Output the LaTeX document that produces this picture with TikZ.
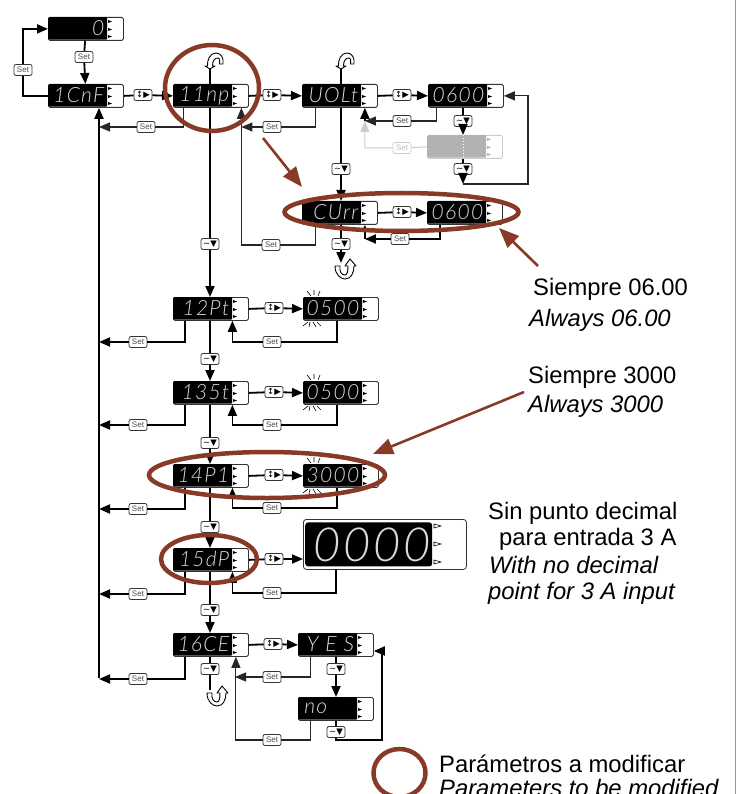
\documentclass[tikz,border=0pt]{standalone}
\usepackage{fontspec}
\setmainfont{Liberation Sans}
\newfontfamily\segfont[LetterSpace=6,ItalicFont={Lato Light Italic}]{Lato Light}
\newfontfamily\symfont{DejaVu Sans}
\usetikzlibrary{arrows.meta}
\definecolor{markred}{RGB}{135,58,38}
\tikzset{
  unitbox/.style={draw=black!80, fill=white, rounded corners=1.5pt, line width=0.8pt, minimum width=75pt, minimum height=23pt, inner sep=0pt},
  segblack/.style={fill=black, rounded corners=1pt, minimum width=59pt, minimum height=22.4pt, inner sep=0pt},
  segtext/.style={text=white!85!black, font=\segfont\itshape\fontsize{21}{21}\selectfont, inner sep=0pt, text width=56pt, align=right},
  keybtn/.style={draw=black!80, fill=white, rounded corners=2pt, line width=0.8pt, minimum width=18pt, minimum height=11pt, inner sep=0pt, font=\symfont\fontsize{8.5}{8.5}\selectfont},
  setbtn/.style={keybtn, text=black!70, font=\fontsize{8}{8}\selectfont},
  mainline/.style={line width=1.8pt},
  thinline/.style={line width=1.1pt, black!85},
  tip/.style={-{Triangle[length=11pt,width=9pt]}},
  smalltip/.style={-{Triangle[length=6pt,width=5pt]}},
  redmark/.style={draw=markred, line width=4.5pt},
  redarrow/.style={draw=markred, line width=2.6pt, -{Triangle[length=20pt,width=16pt]}},
  notetext/.style={font=\fontsize{23.8}{26}\selectfont, inner sep=0pt, anchor=base west},
  noteital/.style={notetext, font=\itshape\fontsize{23.8}{26}\selectfont},
  backloop/.pic={
    \draw[fill=white, line width=0.9pt, line join=round] (-5,-2) -- (0,1) -- (5,-2) -- (2.5,-2) .. controls (2.5,-8) and (5,-10) .. (8,-10)
      .. controls (10,-10) and (10,-6) .. (9.5,-4) -- (13,-4) .. controls (14,-10) and (11,-15) .. (6,-15) .. controls (0,-15) and (-3,-8) .. (-2.5,-2) -- cycle;
  },
  backturn/.pic={
    \draw[fill=white, line width=0.9pt, line join=round] (-6,3) .. controls (-6,12) and (0,16) .. (4,16) .. controls (10,16) and (13,10) .. (13,3)
      -- (15,3) -- (9,-4) -- (4,3) -- (7,3) .. controls (7,9) and (6,12) .. (4,12) .. controls (1,12) and (-2,9) .. (-1,3) -- cycle;
  },
  blink/.pic={
    \draw[line width=0.6pt] (4,-6) -- (8,-1) (11,-7) -- (11,-2) (17,-6) -- (15,-1);
    \draw[line width=0.6pt] (0,29) -- (5,25) (6,30) -- (7,25) (13,30) -- (10,25) (18,29) -- (14,25);
  }
}
% display unit: name, top left corner, text
\newcommand{\dispunit}[3]{
  \node[unitbox, anchor=north west] (#1) at (#2) {};
  \node[segblack, anchor=north west] (#1-seg) at (#1.north west) {};
  \node[segtext, anchor=east] (#1-txt) at ([xshift=-3pt]#1-seg.east) {#3};
  \foreach \i in {3,11,18} {
    \fill ([xshift=60pt, yshift=-\i pt]#1.north west) -- ++(4,1.5) -- ++(-4,1.5) -- cycle;
  }
}
\begin{document}
\begin{tikzpicture}[x=1pt, y=-1pt]
\useasboundingbox (0,0) rectangle (736,794);
% page edge
\coordinate (edgea) at (735.5,0);
\coordinate (edgeb) at (735.5,794);
\draw[markred!60, line width=0.7pt] (edgea) -- (edgeb);
% display units
\dispunit{zero}{48,17}{0}
\dispunit{cnf}{48,84}{1CnF}
\dispunit{inp}{173,84}{11np}
\dispunit{volt}{302,84}{UOLt}
\dispunit{vala}{428,84}{0600}
\dispunit{curr}{302,201}{CUrr}
\dispunit{valb}{427,201}{0600}
\dispunit{pt}{173,297}{12Pt}
\dispunit{valc}{303,297}{0500}
\dispunit{st}{173,381}{135t}
\dispunit{vald}{303,381}{0500}
\dispunit{pi}{173,464}{14P1}
\dispunit{vale}{303,464}{3000}
\dispunit{dp}{173,548}{15dP}
\dispunit{ce}{173,633}{16CE}
\dispunit{yes}{298,633}{Y\hspace{7pt}E\hspace{7pt}S}
\dispunit{no}{298,697}{no\hspace*{27pt}}
\pic at (valc.north west) {blink};
\pic at (vald.north west) {blink};
\pic at (vale.north west) {blink};
% big display
\node[unitbox, rounded corners=3pt, minimum width=163pt, minimum height=50pt, anchor=north west] (big) at (303,519) {};
\node[segblack, rounded corners=3pt, minimum width=127pt, minimum height=44pt, anchor=west] (big-seg) at ([xshift=2pt]big.west) {};
\node[segtext, text width=124pt, font=\segfont\itshape\fontsize{47}{47}\selectfont, anchor=east] (big-txt) at ([xshift=-1pt]big-seg.east) {0000};
\foreach \i in {5,23,41} {
  \draw[line width=0.6pt, fill=white] ([xshift=131pt, yshift=-\i pt]big.north west) -- ++(7,2) -- ++(-7,2) -- cycle;
}
% greyed display
\node[unitbox, draw=black!20, anchor=north west] (grey) at (427,135) {};
\node[segblack, fill=black!30, anchor=north west] (grey-seg) at (grey.north west) {};
\foreach \i in {3,11,18} {
  \fill[black!30] ([xshift=60pt, yshift=-\i pt]grey.north west) -- ++(4,1.5) -- ++(-4,1.5) -- cycle;
}
% keys
\node[setbtn] (setzero) at (84,57) {Set};
\node[setbtn] (setcnf) at (23,70) {Set};
\node[setbtn] (setinp) at (146,127) {Set};
\node[setbtn] (setvolt) at (272,127) {Set};
\node[setbtn] (setvala) at (402,121) {Set};
\node[setbtn, draw=black!20, text=black!25] (setgrey) at (402,148) {Set};
\node[setbtn] (setcurr) at (271,245) {Set};
\node[setbtn] (setvalb) at (400,239) {Set};
\node[setbtn] (setpt) at (138,342) {Set};
\node[setbtn] (setvalc) at (272,342) {Set};
\node[setbtn] (setst) at (138,425) {Set};
\node[setbtn] (setvald) at (272,425) {Set};
\node[setbtn] (setpi) at (138,509) {Set};
\node[setbtn] (setvale) at (272,508) {Set};
\node[setbtn] (setdp) at (138,594) {Set};
\node[setbtn] (setbig) at (272,593) {Set};
\node[setbtn] (setce) at (138,679) {Set};
\node[setbtn] (setyes) at (272,677) {Set};
\node[setbtn] (setno) at (272,740) {Set};
\foreach \n/\p in {rcnf/{143,95}, rinp/{272,95}, rvolt/{402,95}, rcurr/{402,212}, rpt/{274,308}, rst/{274,392}, rpi/{274,475}, rdp/{274,559}, rce/{273,644}} {
  \node[keybtn] (\n) at (\p) {↕▶};
}
\foreach \n/\p in {dinp/{210,244}, dvolt/{341,169}, dcurr/{341,244}, dvala/{463,121}, dgrey/{463,169}, dpt/{210,359}, dst/{210,443}, dpi/{210,527}, ddp/{210,610}, dce/{210,669}, dyes/{336,669}, dno/{336,732}} {
  \node[keybtn] (\n) at (\p) {∼▼};
}
% free ends
\coordinate (mainv) at (99,678);
\coordinate (topinp) at (210,68);
\coordinate (topvolt) at (341,68);
\coordinate (endcurr) at (341,263);
\coordinate (endce) at (210,690);
\coordinate (lowgrey) at (463,184);
\coordinate (rightgrey) at (528,184);
\coordinate (retvolt) at ([xshift=30.5pt]inp.south);
\coordinate (retval) at ([xshift=25pt]curr.north);
\coordinate (retvalb) at ([xshift=25pt]curr.south);
\coordinate (rightno) at (382,740);
\coordinate (retyes) at (235,677);
\coordinate (outbig) at (336,569);
% top block
\draw[mainline, tip] (cnf.west) -| (setcnf) |- (zero.west);
\draw[mainline, tip] (zero) -- (setzero) -- (cnf);
\draw[mainline, tip] (mainv) -- (mainv |- cnf.south);
\draw[mainline, tip] (cnf.east) -- (rcnf) -- (inp.west);
\draw[thinline, tip] ([xshift=-27pt]inp.south) |- (setinp) -- (setinp -| mainv);
\draw[mainline] (inp.north -| topinp) -- (topinp);
\draw[mainline, tip] (inp.south -| dinp) -- (dinp) -- (pt.north -| dinp);
\draw[mainline, tip] (inp.east) -- (rinp) -- (volt.west);
\draw[thinline, tip] ([xshift=-24pt]volt.south) |- (setvolt) -- (setvolt -| retvolt);
\draw[thinline, tip] ([xshift=-24pt]curr.south) |- (setcurr) -| (retvolt);
\draw[mainline] (volt.north -| topvolt) -- (topvolt);
\draw[mainline, tip] (volt.south -| dvolt) -- (dvolt) -- (curr.north -| dvolt);
\draw[mainline, tip] (volt.east) -- (rvolt) -- (vala.west);
\draw[thinline, tip] ([xshift=-29pt]vala.south) |- (setvala) -- (setvala -| retval);
\draw[mainline, tip] (setvala -| retval) -- (retval |- volt.south);
\draw[mainline, tip] (vala.south -| dvala) -- (dvala) -- (grey.north -| dvala);
\draw[black!20, line width=1pt, tip] (grey.west) -- (setgrey) -- (setgrey -| retval) -- (setvala -| retval);
\draw[white, line width=1pt, dotted] (grey.north -| dvala) -- (grey.south -| dvala);
\draw[mainline, tip] (grey.south -| dgrey) -- (dgrey) -- (lowgrey);
\draw[thinline, tip] (lowgrey) -- (rightgrey) |- (vala.east);
\draw[mainline, tip] (curr.east) -- (rcurr) -- (valb.west);
\draw[mainline, tip] ([xshift=-25pt]valb.south) |- (setvalb) -- (setvalb -| retvalb);
\draw[mainline, smalltip] (setvalb -| retvalb) -- (retvalb);
\draw[mainline, tip] (curr.south -| dcurr) -- (dcurr) -- (endcurr);
% parameter rows
\draw[mainline, tip] ([xshift=-26pt]pt.south) |- (setpt) -- (setpt -| mainv);
\draw[mainline, tip] (pt.east) -- (rpt) -- (valc.west);
\draw[mainline, tip] ([xshift=-4pt]valc.south) |- (setvalc) -| ([xshift=21.5pt]pt.south);
\draw[mainline, tip] (pt.south -| dpt) -- (dpt) -- (st.north -| dpt);
\draw[mainline, tip] ([xshift=-26pt]st.south) |- (setst) -- (setst -| mainv);
\draw[mainline, tip] (st.east) -- (rst) -- (vald.west);
\draw[mainline, tip] ([xshift=-4pt]vald.south) |- (setvald) -| ([xshift=21.5pt]st.south);
\draw[mainline, tip] (st.south -| dst) -- (dst) -- (pi.north -| dst);
\draw[mainline, tip] ([xshift=-26pt]pi.south) |- (setpi) -- (setpi -| mainv);
\draw[mainline, tip] (pi.east) -- (rpi) -- (vale.west);
\draw[mainline, tip] ([xshift=-4pt]vale.south) |- (setvale) -| ([xshift=21.5pt]pi.south);
\draw[mainline, tip] (pi.south -| dpi) -- (dpi) -- (dp.north -| dpi);
\draw[mainline, tip] ([xshift=-26pt]dp.south) |- (setdp) -- (setdp -| mainv);
\draw[mainline, tip] (dp.east) -- (rdp) -- (big.west |- rdp);
\draw[mainline, tip] (outbig) |- (setbig) -| ([xshift=21.5pt]dp.south);
\draw[mainline, tip] (dp.south -| ddp) -- (ddp) -- (ce.north -| ddp);
% last row
\draw[mainline, tip] ([xshift=-26pt]ce.south) |- (setce) -- (setce -| mainv);
\draw[mainline] (ce.south -| dce) -- (dce) -- (endce);
\draw[mainline, tip] (ce.east) -- (rce) -- (yes.west);
\draw[thinline, tip] ([xshift=-25pt]yes.south) |- (setyes) -- (retyes);
\draw[thinline, tip] ([xshift=-25pt]no.south) |- (setno) -| ([xshift=25pt]ce.south);
\draw[mainline, tip] (yes.south -| dyes) -- (dyes) -- (no.north -| dyes);
\draw[mainline] (no.south -| dno) -- (dno);
\draw[mainline, tip] (dno) |- (rightno) |- ([yshift=-18pt]yes.north east);
% back arrows
\pic at (topinp) {backloop};
\pic at (topvolt) {backloop};
\pic at (endcurr) {backturn};
\pic at ([xshift=3pt]endce) {backturn};
% marks
\draw[redmark] (212,88) ellipse [x radius=47, y radius=43];
\draw[redmark] (401.5,212) ellipse [x radius=117, y radius=19];
\draw[redmark] (267,475) ellipse [x radius=118, y radius=23];
\draw[redmark] (209,559) ellipse [x radius=48, y radius=24];
\draw[redmark] (399.5,773) ellipse [x radius=26, y radius=24];
\coordinate (arra) at (263,138);
\coordinate (arrb) at (302,187);
\coordinate (arrc) at (538,266);
\coordinate (arrd) at (499,228);
\coordinate (arre) at (524,392);
\coordinate (arrf) at (373,454);
\draw[redarrow] (arra) -- (arrb);
\draw[redarrow] (arrc) -- (arrd);
\draw[redarrow] (arre) -- (arrf);
% notes
\node[notetext] (nota) at (533,295) {Siempre 06.00};
\node[noteital] (notb) at (529,326) {Always 06.00};
\node[notetext] (notc) at (528,383) {Siempre 3000};
\node[noteital] (notd) at (528,412) {Always 3000};
\node[notetext] (note) at (488,519) {Sin punto decimal};
\node[notetext] (notf) at (499,545) {para entrada 3 A};
\node[noteital] (notg) at (489,573) {With no decimal};
\node[noteital] (noth) at (488,599) {point for 3 A input};
\node[notetext] (noti) at (439,772) {Parámetros a modificar};
\node[noteital] (notj) at (439,796) {Parameters to be modified};
\end{tikzpicture}
\end{document}
